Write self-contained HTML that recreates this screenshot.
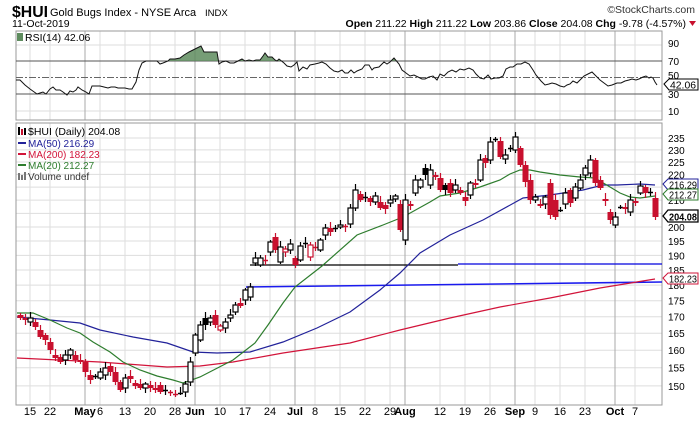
<!DOCTYPE html>
<html><head><meta charset="utf-8"><style>
html,body{margin:0;padding:0;background:#fff;}
svg{display:block;font-family:"Liberation Sans",Arial,sans-serif;}
</style></head><body>
<svg id="c" width="700" height="421" viewBox="0 0 700 421" xmlns="http://www.w3.org/2000/svg">
<rect width="700" height="421" fill="#fff"/>
<g id="grid"></g>
<!-- header -->
<text x="12" y="17" font-size="16" font-weight="bold" fill="#000" textLength="36" lengthAdjust="spacingAndGlyphs">$HUI</text>
<text x="50" y="16" font-size="11" fill="#000">Gold Bugs Index - NYSE Arca</text>
<text x="205" y="16" font-size="9.5" fill="#000">INDX</text>
<text x="695" y="13" font-size="10.5" text-anchor="end" fill="#333">©StockCharts.com</text>
<text x="12" y="27" font-size="10.5" fill="#000">11-Oct-2019</text>
<text x="686" y="27" font-size="10.5" text-anchor="end" fill="#000"><tspan font-weight="bold">Open</tspan> 211.22 <tspan font-weight="bold">High</tspan> 211.22 <tspan font-weight="bold">Low</tspan> 203.86 <tspan font-weight="bold">Close</tspan> 204.08 <tspan font-weight="bold">Chg</tspan> -9.78 (-4.57%)</text>
<polygon points="689,21 696,21 692.5,26" fill="#c8102e"/>
<!-- RSI panel -->
<rect x="16" y="31" width="646" height="89" fill="none" stroke="#999" stroke-width="1"/>
<line x1="16" y1="61" x2="662" y2="61" stroke="#555" stroke-width="1"/>
<line x1="16" y1="94" x2="662" y2="94" stroke="#555" stroke-width="1"/>
<line x1="16" y1="77.5" x2="662" y2="77.5" stroke="#666" stroke-width="1" stroke-dasharray="7,2,2,2"/>
<clipPath id="rc"><rect x="16" y="31" width="646" height="30"/></clipPath>
<clipPath id="pc"><rect x="16" y="31" width="646" height="89"/></clipPath>
<polygon id="rsifill" clip-path="url(#rc)" fill="#5e8c5e" fill-opacity="0.85"/>
<polyline id="rsiline" clip-path="url(#pc)" fill="none" stroke="#111" stroke-width="1"/>
<rect x="17" y="33" width="6" height="8" fill="#5e8c5e"/>
<text x="25" y="41" font-size="10.5" fill="#000">RSI(14) 42.06</text>
<text x="668" y="47" font-size="10" fill="#000">90</text>
<text x="668" y="65" font-size="10" fill="#000">70</text>
<text x="668" y="79" font-size="10" fill="#000">50</text>
<text x="668" y="98" font-size="10" fill="#000">30</text>
<text x="668" y="115" font-size="10" fill="#000">10</text>
<path d="M664,84 L669,79 H698 V90 H669 Z" fill="#fff" stroke="#000" stroke-width="1"/>
<text x="670" y="88.5" font-size="10" fill="#000" textLength="26" lengthAdjust="spacingAndGlyphs">42.06</text>
<!-- main panel -->
<rect x="16" y="123" width="646" height="282" fill="none" stroke="#999" stroke-width="1"/>
<g id="plabels" font-size="10" fill="#000"></g>
<line x1="250" y1="265" x2="458" y2="265" stroke="#000" stroke-width="1.2"/>
<line x1="458" y1="264" x2="662" y2="264" stroke="#0000dd" stroke-width="1.2"/>
<line x1="246" y1="287" x2="662" y2="282" stroke="#1a1aee" stroke-width="1.5"/>
<polyline fill="none" stroke="#d2143a" stroke-width="1.2" points="17,358 100,362 167,367 200,366 233,362 283,353 350,343 400,330 450,318 500,307 550,298 600,288 655,279"/>
<polyline fill="none" stroke="#22229a" stroke-width="1.2" points="17,317 50,320 80,323 100,330 133,337 167,343 193,352 217,353 250,352 283,342 317,328 350,312 380,290 400,273 420,253 450,235 483,220 523,198 550,195 583,190 603,185 617,185 640,184 655,185"/>
<polyline fill="none" stroke="#2e7d2e" stroke-width="1.2" points="17,313 33,313 50,320 67,328 80,333 93,342 110,352 123,362 140,370 157,376 173,380 183,383 200,377 233,360 255,343 268,325 283,303 295,287 322,266 357,235 383,225 403,217 430,202 440,196 460,193 480,187 500,180 510,174 520,170 530,170 540,172 560,175 580,177 595,178 605,184 620,193 630,197 640,198 655,196"/>
<g id="candles"></g>
<!-- legend -->
<rect x="18" y="127" width="2" height="8" fill="#000"/><rect x="21" y="129" width="2" height="6" fill="#c8102e"/><rect x="24" y="128" width="2" height="7" fill="#000"/>
<text x="28" y="135" font-size="10.5" fill="#000">$HUI (Daily) 204.08</text>
<line x1="18" y1="143" x2="26" y2="143" stroke="#22229a" stroke-width="2"/><text x="28" y="147" font-size="10" fill="#22229a">MA(50) 216.29</text>
<line x1="18" y1="154" x2="26" y2="154" stroke="#d2143a" stroke-width="2"/><text x="28" y="158" font-size="10" fill="#d2143a">MA(200) 182.23</text>
<line x1="18" y1="165" x2="26" y2="165" stroke="#2e7d2e" stroke-width="2"/><text x="28" y="169" font-size="10" fill="#2e7d2e">MA(20) 212.27</text>
<rect x="18" y="173" width="2" height="7" fill="#777"/><rect x="21" y="175" width="2" height="5" fill="#777"/><rect x="24" y="172" width="2" height="8" fill="#777"/>
<text x="28" y="180" font-size="10" fill="#333">Volume undef</text>
<!-- value boxes -->
<path d="M663,184 L668,179 H698 V190 H668 Z" fill="#fff" stroke="#22229a"/>
<text x="669" y="188.5" font-size="10" fill="#000" textLength="28" lengthAdjust="spacingAndGlyphs">216.29</text>
<path d="M663,194 L668,189 H698 V200 H668 Z" fill="#fff" stroke="#2e7d2e"/>
<text x="669" y="198.5" font-size="10" fill="#000" textLength="28" lengthAdjust="spacingAndGlyphs">212.27</text>
<path d="M663,216 L668,210 H698 V222 H668 Z" fill="#fff" stroke="#000" stroke-width="1.3"/>
<text x="669" y="220.5" font-size="10.5" font-weight="bold" fill="#000" textLength="28" lengthAdjust="spacingAndGlyphs">204.08</text>
<path d="M663,278 L668,273 H698 V284 H668 Z" fill="#fff" stroke="#d2143a"/>
<text x="669" y="282.5" font-size="10" fill="#000" textLength="28" lengthAdjust="spacingAndGlyphs">182.23</text>
<g id="xl" font-size="11" fill="#000"></g>
</svg>
<script>
(function(){
var NS="http://www.w3.org/2000/svg";
function el(p,t,a,txt){var e=document.createElementNS(NS,t);for(var k in a)e.setAttribute(k,a[k]);if(txt!=null)e.textContent=txt;document.getElementById(p).appendChild(e);return e;}
function py(p){return 138+(Math.log(235)-Math.log(p))*552;}
for(var p=150;p<=235;p+=5){var y=py(p);el("grid","line",{x1:16,x2:662,y1:y,y2:y,stroke:"#ddd","stroke-width":1});
 if([215,205].indexOf(p)<0) el("plabels","text",{x:668,y:y+4},String(p));}
[45,111].forEach(function(y){el("grid","line",{x1:16,x2:662,y1:y,y2:y,stroke:"#ddd"});});
var ticks=[[2,"15",0],[6,"22",0],[13,"May",1],[16,"6",0],[21,"13",0],[26,"20",0],[31,"28",0],[35,"Jun",1],[40,"10",0],[45,"17",0],[50,"24",0],[55,"Jul",1],[59,"8",0],[64,"15",0],[69,"22",0],[74,"29",0],[77,"Aug",1],[84,"12",0],[89,"19",0],[94,"26",0],[99,"Sep",1],[103,"9",0],[108,"16",0],[113,"23",0],[119,"Oct",1],[123,"7",0]];
ticks.forEach(function(t){var x=20+5*t[0];var c=t[2]?"#aaa":"#ddd";
 el("grid","line",{x1:x,x2:x,y1:31,y2:120,stroke:c});
 el("grid","line",{x1:x,x2:x,y1:123,y2:405,stroke:c});
 var a={x:x,y:415,"text-anchor":"middle"}; if(t[2])a["font-weight"]="bold";
 el("xl","text",a,t[1]);});
var r=[[12,77],[16,80],[20,80],[25,85],[30,89],[37,94],[40,93],[43,92],[46,94],[50,89],[53,87],[56,90],[60,90],[63,92],[67,95],[70,91],[73,92],[76,90],[78,87],[82,90],[86,92],[89,94],[92,86],[96,86],[100,86],[104,87],[108,88],[111,87],[115,87],[118,88],[122,88],[125,88],[129,89],[132,89],[136,82],[139,70],[142,63],[146,61],[150,61],[153,61],[157,61],[160,64],[163,63],[168,61],[170,59],[175,59],[180,58],[184,55],[189,52],[193,50],[197,48],[201,46],[204,52],[209,52],[213,52],[217,52],[219,64],[222,62],[226,61],[230,63],[234,63],[238,61],[242,59],[245,61],[249,60],[253,61],[256,60],[260,60],[263,56],[265,53],[268,57],[272,57],[275,60],[277,61],[279,59],[284,63],[287,66],[291,67],[294,65],[297,62],[299,71],[303,67],[307,69],[310,65],[315,64],[319,63],[322,62],[326,64],[330,68],[334,71],[338,72],[342,70],[345,73],[348,73],[351,70],[354,73],[357,71],[362,69],[365,65],[369,65],[372,70],[374,68],[379,67],[384,62],[387,64],[390,62],[394,58],[399,64],[402,70],[406,73],[410,76],[414,75],[418,77],[422,79],[425,79],[429,77],[433,76],[437,80],[440,74],[444,76],[448,72],[452,70],[456,72],[460,69],[464,70],[469,68],[473,70],[476,74],[480,78],[484,79],[488,75],[491,79],[495,78],[499,78],[503,76],[506,69],[510,67],[513,67],[517,64],[521,64],[525,62],[529,64],[533,70],[536,75],[541,81],[545,85],[549,84],[552,83],[556,84],[560,86],[564,87],[567,85],[570,84],[573,81],[577,83],[580,80],[584,76],[588,74],[592,72],[596,76],[600,80],[604,83],[608,86],[612,85],[617,83],[621,83],[625,81],[629,80],[632,79],[636,80],[639,79],[643,77],[646,76],[649,78],[651,77],[653,78],[655,82],[657,85]];
var s=r.map(function(q){return q.join(",");}).join(" ");
document.getElementById("rsiline").setAttribute("points",s);
document.getElementById("rsifill").setAttribute("points","12,61 "+s+" 657,61");
var d=[[315,318],[318,320],[322,318],[322,327],[330,337],[335,340],[342,350],[355,358],[357,362],[360,355],[355,350],[355,360],[360,362],[362,372],[375,380],[376,376],[378,372],[375,368],[366,372],[372,382],[382,390],[388,378],[376,379],[383,386],[384,388],[388,384],[385,388],[388,390],[385,392],[390,390],[392,392],[394,394],[393,393],[392,384],[382,362],[353,335],[340,325],[318,325],[322,318],[315,325],[330,326],[328,322],[318,315],[312,305],[303,306],[300,290],[297,287],[263,258],[265,258],[260,260],[252,242],[237,250],[262,247],[252,249],[250,244],[258,265],[260,246],[243,243],[257,245],[247,248],[250,240],[235,228],[228,232],[229,228],[227,225],[226,227],[224,208],[208,190],[194,200],[197,197],[198,202],[202,196],[202,208],[205,209],[203,200],[199,196],[204,230],[240,200],[204,206],[193,180],[187,180],[168,175],[185,170],[175,177],[178,190],[185,190],[183,193],[190,185],[190,193],[197,201],[195,183],[183,185],[180,160],[158,163],[160,142],[139,139],[141,157],[159,155],[148,148],[150,137],[148,165],[165,182],[180,200],[200,197],[204,206],[204,197],[183,215],[200,217],[210,210],[204,193],[190,203],[198,187],[188,180],[175,168],[173,160],[160,183],[180,188],[199,201],[212,220],[225,217],[207,207],[207,209],[212,200],[201,203],[193,186],[187,193],[192,192],[198,217]];
var prev=d[0][0];
for(var i=0;i<d.length;i++){
 var x=20+5*i,o=d[i][0],c=d[i][1];
 var red=c>prev+0.5; var col=red?"#c8102e":"#000";
 var top=Math.min(o,c),bot=Math.max(o,c);
 var w1=2+((i*7)%5),w2=2+((i*11)%4);
 el("candles","line",{x1:x+0.5,x2:x+0.5,y1:top-w1,y2:bot+w2,stroke:col,"stroke-width":1.2});
 if(bot-top<1.5){el("candles","line",{x1:x-2,x2:x+3,y1:top+0.5,y2:top+0.5,stroke:col,"stroke-width":1.5});}
 else if(c<o){el("candles","rect",{x:x-2,y:top,width:5,height:bot-top,fill:"#fff",stroke:col,"stroke-width":1.2});}
 else{el("candles","rect",{x:x-2.5,y:top,width:6,height:bot-top,fill:col});}
 prev=c;}
})();
</script>
</body></html>
